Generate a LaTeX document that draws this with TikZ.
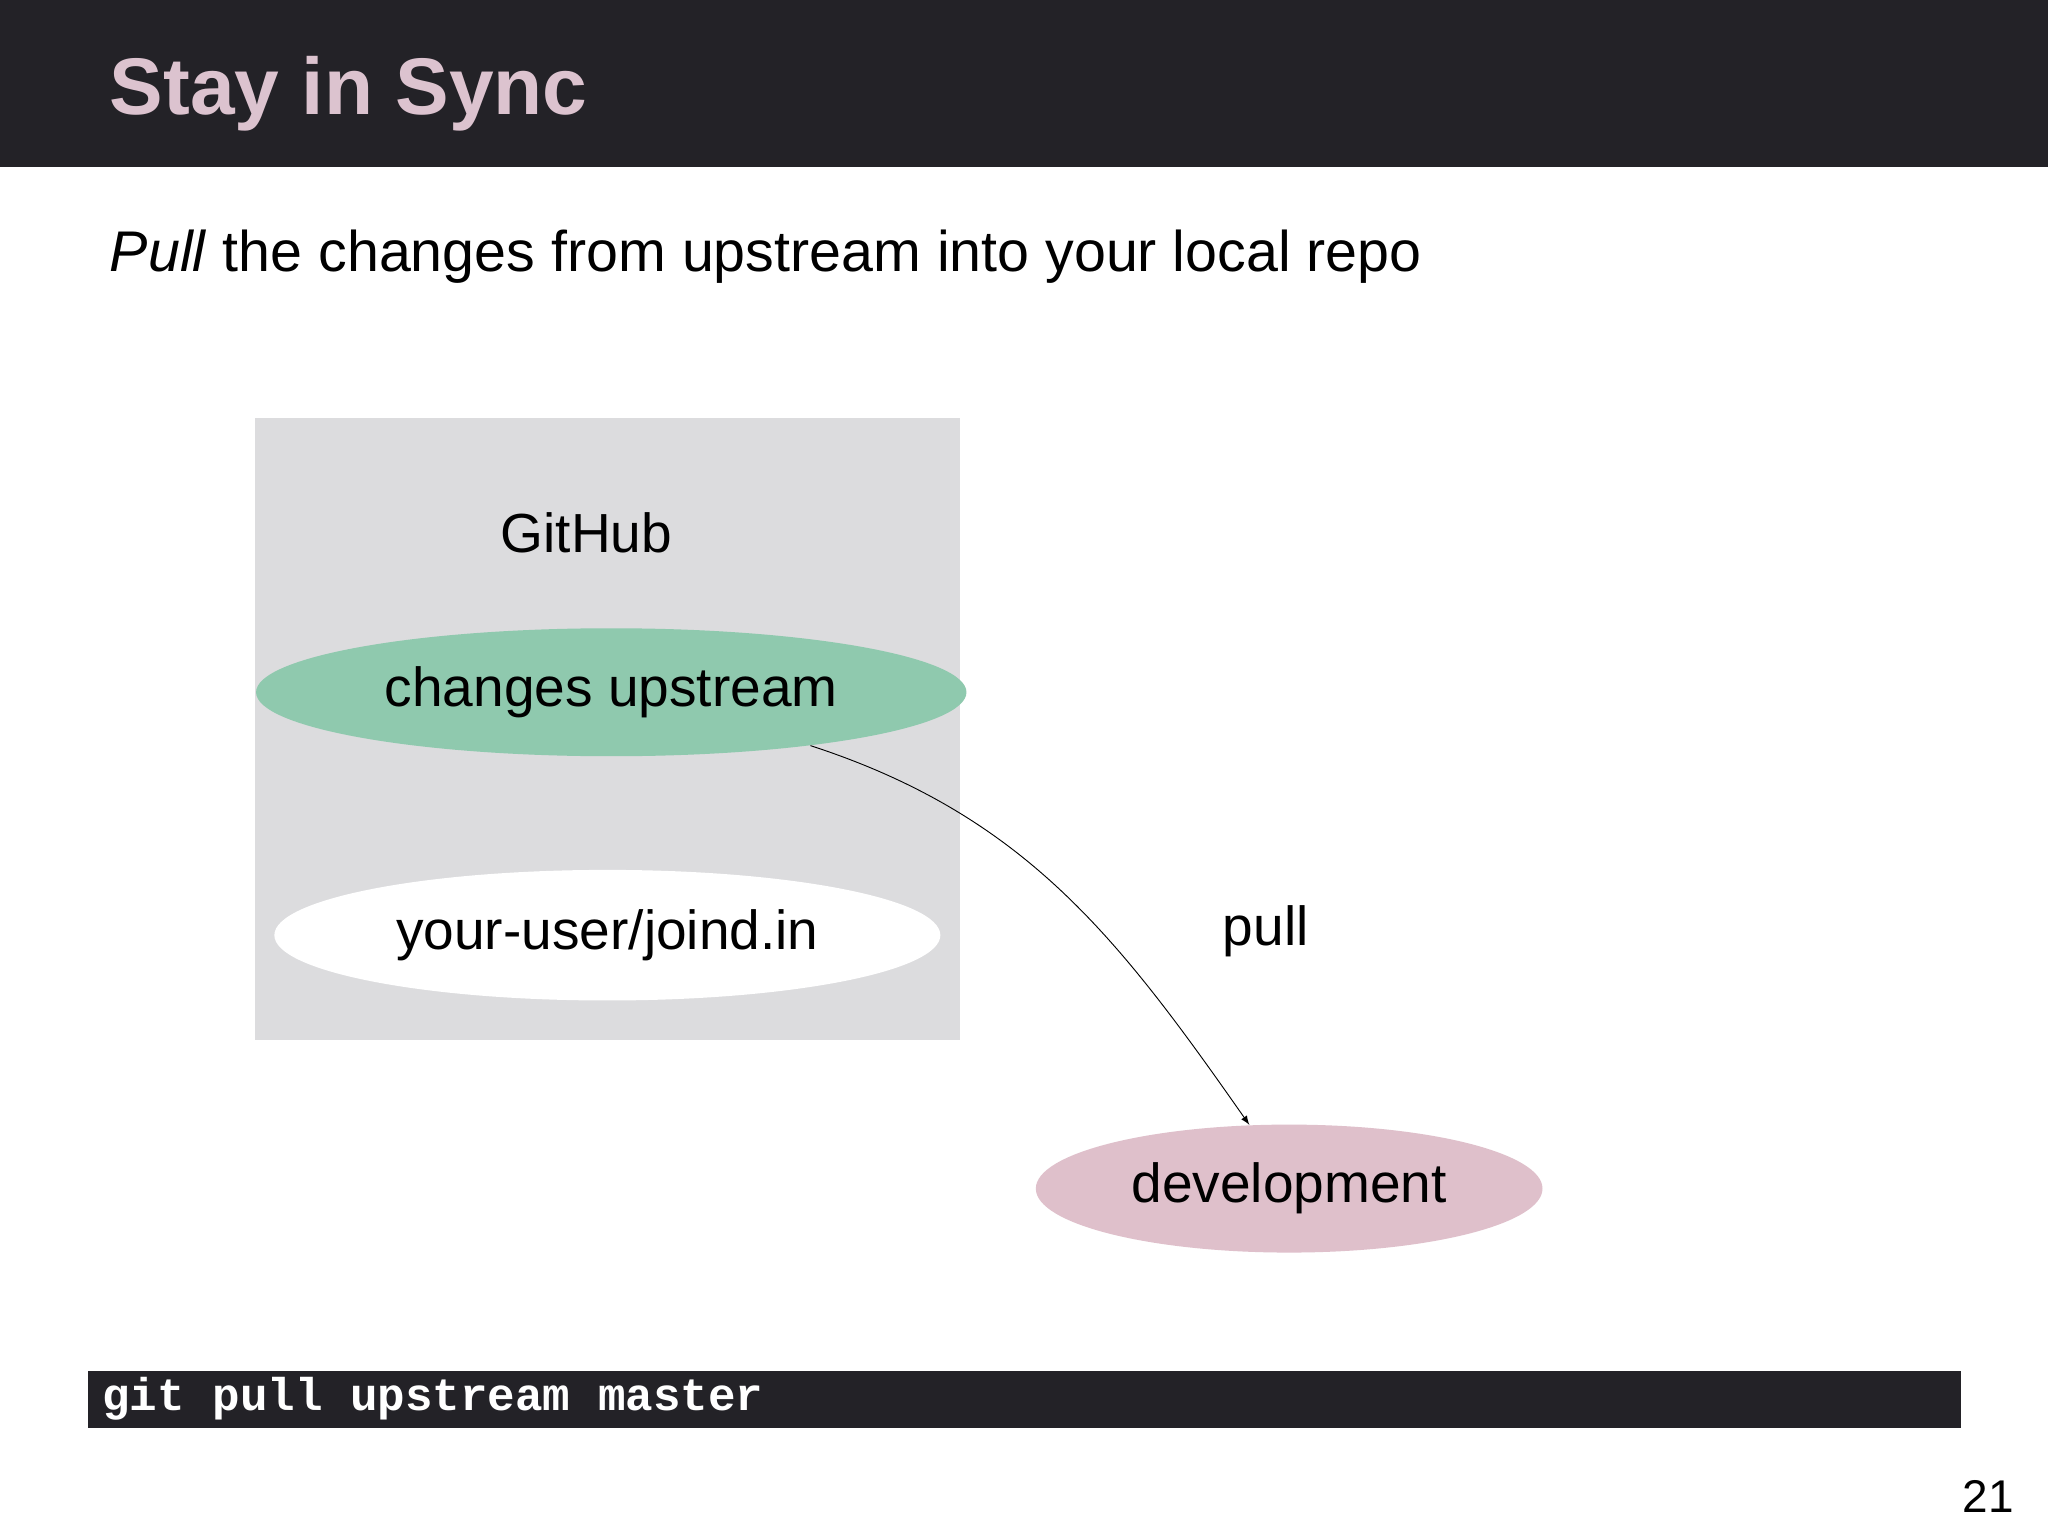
\documentclass[tikz,border=0pt]{standalone}
\usepackage{fontspec}
\setmainfont{Liberation Sans}
\setmonofont{Liberation Mono}
\usetikzlibrary{shapes.geometric}
\definecolor{barblack}{HTML}{232227}
\definecolor{titlepink}{HTML}{DCC3CF}
\definecolor{boxgray}{HTML}{DCDCDE}
\definecolor{upgreen}{HTML}{8FC9AE}
\definecolor{devpink}{HTML}{DFC0CB}
\tikzset{
    blob/.style={ellipse, inner sep=0pt, font=\fontsize{24}{28}\selectfont},
}

\begin{document}
\begin{tikzpicture}[x=0.02cm, y=-0.02cm]
    \useasboundingbox (0,0) rectangle (1568,1176);
    \fill[white] (0,0) rectangle (1568,1176);
    \fill[barblack] (0,0) rectangle (1568,128);
    \node[anchor=base west, text=titlepink, font=\fontsize{35}{40}\selectfont\bfseries] (title) at (78,88) {Stay in Sync};
    \node[anchor=base west, font=\fontsize{25}{30}\selectfont] (sub) at (78,208) {\textit{Pull} the changes from upstream into your local repo};

    % GitHub cluster
    \fill[boxgray] (195,320) rectangle (735,796);
    \node[font=\fontsize{24}{28}\selectfont] (gh) at (449,408) {GitHub};
    \node[blob, fill=upgreen, minimum width=10.88cm, minimum height=1.96cm] (up) at (468,530) {changes upstream};
    \node[blob, fill=white, minimum width=10.2cm, minimum height=2cm] (fork) at (465,716) {your-user/joind.in};
    \node[blob, fill=devpink, minimum width=7.76cm, minimum height=1.96cm] (dev) at (987,910) {development};

    \draw[-latex, thin] (up.-15) to[out=-18, in=125] (dev.122);
    \node[font=\fontsize{24}{28}\selectfont] (pl) at (969,713) {pull};

    % command bar
    \fill[barblack] (67,1050) rectangle (1501,1093);
    \node[anchor=base west, inner sep=0pt, text=white, font=\fontsize{20}{24}\selectfont\ttfamily\bfseries] (cmd) at (78,1080) {git pull upstream master};
    \node[anchor=base east, inner sep=0pt, font=\fontsize{20}{24}\selectfont] (pg) at (1542,1158) {21};
\end{tikzpicture}
\end{document}
